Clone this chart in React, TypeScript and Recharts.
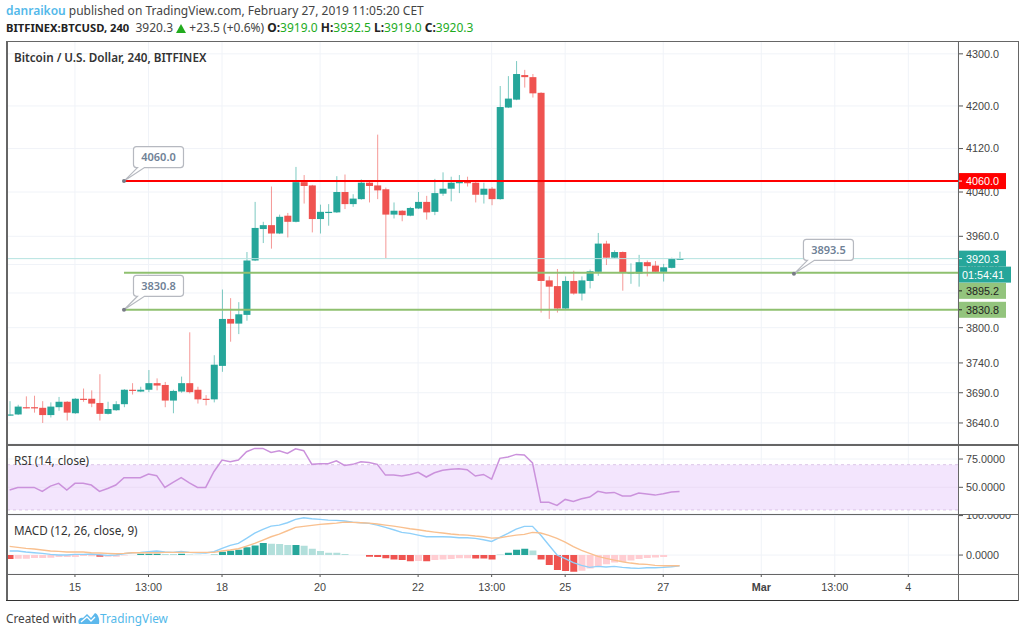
import {
  Bar,
  CartesianGrid,
  Cell,
  ComposedChart,
  Line,
  LineChart,
  ReferenceArea,
  ReferenceDot,
  ReferenceLine,
  XAxis,
  YAxis,
} from "recharts";

const UI_FONT = "'Noto Sans', 'Open Sans', sans-serif";
const AXIS_FONT = "'Liberation Sans', Arial, sans-serif";

// 4h candles, one entry per bar
const opens = [3653,3654,3666,3666,3665,3653,3666,3675,3656,3680,3680,3673,3655,3661,3671,3695,3692,3695,3706,3703,3677,3692,3706,3695,3680,3679,3735,3815,3807,3822,3917,3973,3980,3965,3997,3986,4058,4052,3991,4003,4003,4040,4018,4027,4057,4052,4045,3999,4006,3997,4010,4022,4004,4037,4046,4056,4061,4057,4035,4046,4027,4197,4212,4259,4255,4225,3882,3872,3833,3881,3859,3881,3897,3947,3922,3932,3894,3894,3914,3908,3897,3904,3919];
const highs = [3676,3670,3684,3685,3676,3674,3683,3676,3681,3697,3694,3721,3675,3676,3696,3706,3700,3728,3714,3708,3695,3717,3792,3700,3686,3753,3866,3851,3844,3932,4022,3986,4050,3999,4002,4086,4071,4053,4017,4018,4069,4072,4036,4063,4061,4146,4048,4021,4007,4013,4040,4033,4064,4076,4068,4071,4068,4058,4057,4049,4238,4257,4286,4269,4261,4226,3889,3902,3889,3899,3889,3901,3966,3952,3935,3933,3912,3927,3917,3916,3911,3922,3932.5];
const lows = [3652,3653,3664,3657,3640,3649,3660,3644,3655,3675,3666,3644,3654,3660,3666,3687,3691,3691,3694,3666,3656,3690,3689,3672,3669,3674,3725,3776,3789,3812,3916,3948,3938,3964,3958,3985,4019,3967,3965,3979,4002,4009,4013,4026,4021,4027,3921,3992,3987,3996,4009,3990,3998,4033,4023,4038,4050,4021,4019,4016,4026,4196,4211,4235,4216,3826,3815,3826,3832,3857,3847,3868,3890,3909,3921,3864,3876,3871,3889,3895,3880,3903,3919];
const closes = [3654,3667,3665,3664,3653,3667,3675,3657,3680,3678,3672,3655,3663,3671,3695,3693,3695,3706,3702,3677,3693,3706,3691,3679,3679,3737,3815,3807,3823,3917,3975,3980,3965,3995,3986,4058,4051,3991,4004,4004,4040,4018,4028,4057,4051,4043,3999,4006,3998,4011,4022,4003,4038,4046,4057,4061,4056,4035,4046,4027,4198,4214,4261,4255,4224,3881,3871,3833,3881,3859,3882,3898,3947,3922,3932,3896,3896,3914,3907,3897,3905,3920,3920.3];

const rsiValues = [47.6,49.9,49.9,49.9,46.4,51.1,53.5,47.6,53.5,53.5,52,46.4,49,52,58.5,58.5,58.5,61.7,60.3,49.9,54.4,58.5,54,49.9,49.9,63.8,74.1,72.6,74.1,81.5,84.4,84.4,80.9,82.4,80,84.1,82.4,70.3,70.9,70.9,73.5,69.4,70.3,72.6,72,70.3,60.8,60.8,60,61.4,63.2,59.1,62.9,65,65.9,66.4,65.6,60,61.4,57.3,75.6,76.8,79.1,78.5,71.5,36.7,36.7,34,39.3,37.5,39.9,41.4,46.4,44.9,45.5,42.3,42.3,44.9,44,43.1,44.3,45.8,46.4];

const macdValues = [10.1,10.1,7.6,5.9,4.2,1.7,0,0,1.7,1.7,2.5,0.8,-0.8,0,3.4,5.9,6.8,8.4,10.1,7.6,6.8,9.3,6.8,5.9,5.1,8.4,16.9,24.5,29.5,42.2,55.7,65,73.4,75.9,81.9,90.3,94.5,92,90.3,88.6,87.8,86.1,83.5,81.9,80.2,75.9,70,64.1,57.4,54.9,50.6,46.4,46.4,46.4,45.6,43.9,43.9,42.2,38.8,34.6,44.7,54.9,65.8,72.6,72.6,50.6,25.3,0,-9.3,-19.4,-26.2,-31.2,-28.7,-30.4,-28.7,-31.2,-32.9,-33.8,-32.1,-32.1,-31.2,-29.5,-27];
const signalValues = [21.9,19.4,16.9,15.2,12.7,10.1,9.3,7.6,7.6,7.6,5.9,5.1,4.2,3.4,4.2,5.9,5.9,5.9,5.9,6.8,6.8,6.8,6.8,6.8,6.8,6.8,10.1,12.7,16,22.8,29.5,38,46.4,53.2,61.6,70,72.6,75.1,77.6,79.3,81,83.5,82.7,81.9,81,78.5,75.9,73.4,70,66.7,64.1,60.8,58.2,55.7,53.2,51.5,50.6,48.1,46.4,43,43.9,47.3,50.6,52.3,57.4,55.7,49.8,42.2,32.9,21.1,11.8,4.2,-3.4,-8.4,-12.7,-16.9,-20.3,-22.8,-23.6,-26.2,-27,-27,-27];
const histValues = [-10,-9.5,-9.3,-7.6,-7.4,-6.8,-5,-5,-4.9,-2.5,-3,-4.5,-4,-4,-1,0,3.4,3.4,3.4,2.5,2.5,3,1.7,0.8,0,2.5,8.4,11,13.5,20,24.5,30.4,28.7,27.8,25.3,25.3,23.6,16,10,5.9,5.9,2.5,0,0,-4.2,-5,-8.4,-11,-12.7,-16,-15.2,-16,-12.7,-11,-10,-8.4,-8.4,-8.5,-8.6,-11,1.7,5.9,13.5,16,11.8,-11,-25.3,-38,-40.5,-42,-39.7,-33.8,-28.7,-23.6,-18.6,-16.9,-13.5,-10,-7.6,-5.9,-5,0,0];
// 1 = saturated histogram bar, 0 = pale one
const histStrong = [1,0,0,0,0,0,0,0,0,0,0,1,0,0,0,0,1,1,1,0,0,1,0,0,0,0,1,1,1,1,1,1,0,0,0,1,0,0,0,0,0,0,0,0,1,1,1,1,1,1,0,1,0,0,0,0,0,1,1,1,0,1,1,1,0,1,1,1,1,1,0,0,0,0,0,0,0,0,0,0,0,0,0];

const priceTicks = [4300, 4200, 4120, 4040, 3960, 3910, 3860, 3800, 3740, 3690, 3640];
const rsiTicks = [75, 50];
const macdTicks = [100, 0];
const timeTicks = [8, 17, 26, 38, 50, 59, 68, 80, 92, 101, 110];
const timeLabels = ["15", "13:00", "18", "20", "22", "13:00", "25", "27", "Mar", "13:00", "4"];

const candles = opens.map((open, i) => ({
  i,
  open,
  high: highs[i],
  low: lows[i],
  close: closes[i],
}));
const rsiData = rsiValues.map((rsi, i) => ({ i, rsi }));
const macdData = macdValues.map((macd, i) => ({
  i,
  macd,
  signal: signalValues[i],
  hist: histValues[i],
}));

const xDomain: [number, number] = [-0.38, 116.08];
const priceDomain: [number, number] = [3605.6, 4325];
const GRID = "#f0f3f8";
const UP = "#26a69a";
const DOWN = "#ef5350";
const AXIS_SIZE = 10.8;
const tickStyle = { fontSize: AXIS_SIZE, fill: "#444", fontFamily: AXIS_FONT };

// body and wick of one candle, log positions taken from the bar's high/low rect
function Candle(props: any) {
  const { x, y, width, height, payload } = props;
  const top = Math.min(y, y + height);
  const h = Math.abs(height);
  const { open, close, high, low } = payload;
  const at = (p: number) =>
    top + ((Math.log(high) - Math.log(p)) / (Math.log(high) - Math.log(low))) * h;
  const color = close >= open ? UP : DOWN;
  const cx = x + width / 2;
  const bodyTop = at(Math.max(open, close));
  const bodyBottom = at(Math.min(open, close));
  return (
    <g>
      <line x1={cx} x2={cx} y1={top} y2={top + h} stroke={color} strokeOpacity={0.6} strokeWidth={1} />
      <rect
        x={x}
        y={bodyTop}
        width={width}
        height={Math.max(bodyBottom - bodyTop, 1.2)}
        fill={color}
      />
    </g>
  );
}

function PriceTag(props: any) {
  const { viewBox, text, fill, color = "#fff", dy = 0, width = 48, inset = 8 } = props;
  const left = viewBox.x + viewBox.width;
  const mid = viewBox.y + dy;
  return (
    <g>
      <rect x={left} y={mid - 8} width={width} height={16} fill={fill} />
      {inset > 4 && <line x1={left} x2={left + 4} y1={mid} y2={mid} stroke={color} />}
      <text x={left + inset} y={mid + 4} fontSize={AXIS_SIZE} fontFamily={AXIS_FONT} fill={color}>
        {text}
      </text>
    </g>
  );
}

function Callout(props: any) {
  const { cx, cy, text } = props;
  const x = cx + 9.5;
  const y = cy - 34.5;
  const w = 50;
  const h = 21;
  const r = 3;
  const d = [
    `M${x + r},${y}`,
    `H${x + w - r}`,
    `Q${x + w},${y} ${x + w},${y + r}`,
    `V${y + h - r}`,
    `Q${x + w},${y + h} ${x + w - r},${y + h}`,
    `H${x + 11}`,
    `L${cx},${cy}`,
    `L${x + 4},${y + h}`,
    `H${x + r}`,
    `Q${x},${y + h} ${x},${y + h - r}`,
    `V${y + r}`,
    `Q${x},${y} ${x + r},${y}`,
    "Z",
  ].join(" ");
  return (
    <g>
      <path d={d} fill="#fff" stroke="#b6b9c0" strokeWidth={1.2} />
      <circle cx={cx} cy={cy} r={2} fill="#787b86" />
      <text
        x={x + w / 2}
        y={y + 14.5}
        textAnchor="middle"
        fontSize={11}
        fontWeight={600}
        fontFamily={UI_FONT}
        fill="#6f8196"
      >
        {text}
      </text>
    </g>
  );
}

function TimeTick(props: any) {
  const { x, y, payload } = props;
  const label = timeLabels[timeTicks.indexOf(payload.value)];
  return (
    <text
      x={x}
      y={y + 12}
      textAnchor="middle"
      fontSize={AXIS_SIZE}
      fontFamily={AXIS_FONT}
      fontWeight={label === "Mar" ? 700 : 400}
      fill="#444"
    >
      {label}
    </text>
  );
}

function PriceChart() {
  return (
    <ComposedChart
      width={1024}
      height={403}
      data={candles}
      margin={{ top: 0, right: 6, bottom: 0, left: 6.5 }}
      barSize={7}
    >
      <CartesianGrid stroke={GRID} />
      <XAxis dataKey="i" type="number" domain={xDomain} ticks={timeTicks} allowDataOverflow hide />
      <YAxis
        orientation="right"
        scale="log"
        domain={priceDomain}
        allowDataOverflow
        ticks={priceTicks}
        interval={0}
        width={60}
        axisLine={false}
        tickSize={5}
        tickLine={{ stroke: "#555" }}
        tick={tickStyle}
        tickMargin={3}
        tickFormatter={(v: number) => v.toFixed(1)}
      />
      <ReferenceLine y={3920.3} stroke="#b5e3e0" />
      <Bar
        dataKey={(d: any) => [d.low, d.high]}
        shape={<Candle />}
        isAnimationActive={false}
      />
      <ReferenceLine
        segment={[{ x: 14, y: 4060 }, { x: xDomain[1], y: 4060 }]}
        stroke="#ff0000"
        strokeWidth={2}
      />
      <ReferenceLine
        segment={[{ x: 14, y: 3895.2 }, { x: xDomain[1], y: 3895.2 }]}
        stroke="#8fc06f"
        strokeWidth={2}
      />
      <ReferenceLine
        segment={[{ x: 14, y: 3830.8 }, { x: xDomain[1], y: 3830.8 }]}
        stroke="#8fc06f"
        strokeWidth={2}
      />
      <ReferenceDot x={14} y={4060} r={2} shape={(p: any) => <Callout {...p} text="4060.0" />} />
      <ReferenceDot x={14} y={3830.8} r={2} shape={(p: any) => <Callout {...p} text="3830.8" />} />
      <ReferenceDot x={96} y={3893.5} r={2} shape={(p: any) => <Callout {...p} text="3893.5" />} />
    </ComposedChart>
  );
}

// second chart over the first: axis text is painted above reference labels,
// so the price tags need their own layer to cover the ticks behind them
function PriceTags() {
  return (
    <ComposedChart
      width={1024}
      height={403}
      data={candles}
      margin={{ top: 0, right: 66, bottom: 0, left: 6.5 }}
    >
      <XAxis dataKey="i" type="number" domain={xDomain} allowDataOverflow hide />
      <YAxis scale="log" domain={priceDomain} allowDataOverflow hide />
      <ReferenceLine y={3920.3} stroke="none" label={<PriceTag text="3920.3" fill={UP} />} />
      <ReferenceLine y={3920.3} stroke="none" label={<PriceTag text="01:54:41" fill={UP} dy={16} width={53} inset={4} />} />
      <ReferenceLine y={4060} stroke="none" label={<PriceTag text="4060.0" fill="#ff0000" />} />
      <ReferenceLine y={3895.2} stroke="none" label={<PriceTag text="3895.2" fill="#93c47d" color="#222" dy={18} />} />
      <ReferenceLine y={3830.8} stroke="none" label={<PriceTag text="3830.8" fill="#93c47d" color="#222" />} />
    </ComposedChart>
  );
}

function RsiChart() {
  return (
    <LineChart
      width={1024}
      height={70}
      data={rsiData}
      margin={{ top: 0, right: 6, bottom: 0, left: 6.5 }}
    >
      <CartesianGrid stroke={GRID} />
      <XAxis dataKey="i" type="number" domain={xDomain} ticks={timeTicks} allowDataOverflow hide />
      <YAxis
        orientation="right"
        domain={[26.4, 88.3]}
        allowDataOverflow
        ticks={rsiTicks}
        interval={0}
        width={60}
        axisLine={false}
        tickSize={5}
        tickLine={{ stroke: "#555" }}
        tick={tickStyle}
        tickMargin={3}
        tickFormatter={(v: number) => v.toFixed(4)}
      />
      <ReferenceArea y1={30} y2={70} fill="#f3e5fd" fillOpacity={1} stroke="none" />
      <ReferenceLine y={70} stroke="#dcc6e8" strokeDasharray="3 3" />
      <ReferenceLine y={30} stroke="#dcc6e8" strokeDasharray="3 3" />
      <ReferenceLine y={50} stroke="#ebdcf6" />
      <Line
        dataKey="rsi"
        stroke="#cb92dc"
        strokeWidth={1.5}
        dot={false}
        isAnimationActive={false}
      />
    </LineChart>
  );
}

function MacdChart() {
  return (
    <ComposedChart
      width={1024}
      height={86}
      data={macdData}
      margin={{ top: 0, right: 6, bottom: 0, left: 6.5 }}
      barSize={7}
    >
      <CartesianGrid stroke={GRID} />
      <XAxis
        dataKey="i"
        type="number"
        domain={xDomain}
        ticks={timeTicks}
        interval={0}
        allowDataOverflow
        height={26}
        axisLine={false}
        tickSize={3}
        tickLine={{ stroke: "#555" }}
        tick={<TimeTick />}
      />
      <YAxis
        orientation="right"
        domain={[-48, 104]}
        allowDataOverflow
        ticks={macdTicks}
        interval={0}
        width={60}
        axisLine={false}
        tickSize={5}
        tickLine={{ stroke: "#555" }}
        tick={tickStyle}
        tickMargin={3}
        tickFormatter={(v: number) => v.toFixed(4)}
      />
      <Bar dataKey="hist" isAnimationActive={false}>
        {histValues.map((v, i) => {
          const fill =
            v >= 0
              ? histStrong[i] ? UP : "#b2dfdb"
              : histStrong[i] ? DOWN : "#ffcdd2";
          return <Cell key={i} fill={fill} />;
        })}
      </Bar>
      <Line dataKey="macd" stroke="#8fd0fa" strokeWidth={1.4} dot={false} isAnimationActive={false} />
      <Line dataKey="signal" stroke="#f9c08f" strokeWidth={1.4} dot={false} isAnimationActive={false} />
    </ComposedChart>
  );
}

const paneTitle = (top: number): React.CSSProperties => ({
  position: "absolute",
  left: 14,
  top,
  fontFamily: UI_FONT,
  fontSize: 11.7,
  lineHeight: "16px",
  color: "#333",
  whiteSpace: "nowrap",
});

const rule = (s: React.CSSProperties): React.CSSProperties => ({
  position: "absolute",
  background: "#666",
  ...s,
});

export default function App() {
  const green = { color: "#22ab1e" };
  const strong = { color: "#222" };
  return (
    <div style={{ position: "absolute", left: 0, top: 0, width: 1024, height: 635, background: "#fff", overflow: "hidden" }}>
      <div style={{ position: "absolute", left: 6, top: 3, fontFamily: UI_FONT, fontSize: 12, lineHeight: "16px", color: "#444", whiteSpace: "nowrap" }}>
        <span style={{ color: "#53b9ea", fontWeight: 600 }}>danraikou</span> published on TradingView.com, February 27, 2019 11:05:20 CET
      </div>
      <div style={{ position: "absolute", left: 6, top: 20, fontFamily: UI_FONT, fontSize: 12, lineHeight: "16px", color: "#444", whiteSpace: "nowrap" }}>
        <b style={{ ...strong, fontSize: 11.2 }}>BITFINEX:BTCUSD, 240</b>&nbsp; 3920.3 <svg width={10} height={9} viewBox="0 0 10 9" style={{ verticalAlign: -1 }}><path d="M5 0 L10 9 H0 Z" fill="#22ab1e" /></svg> +23.5 (+0.6%) <b style={strong}>O:</b><span style={green}>3919.0</span> <b style={strong}>H:</b><span style={green}>3932.5</span> <b style={strong}>L:</b><span style={green}>3919.0</span> <b style={strong}>C:</b><span style={green}>3920.3</span>
      </div>

      <div style={{ position: "absolute", left: 0, top: 444 }}><RsiChart /></div>
      <div style={{ position: "absolute", left: 0, top: 514 }}><MacdChart /></div>
      <div style={{ position: "absolute", left: 0, top: 41 }}><PriceChart /></div>
      <div style={{ position: "absolute", left: 0, top: 41 }}><PriceTags /></div>

      <div style={paneTitle(49)}><span style={{ fontWeight: 600 }}>Bitcoin / U.S. Dollar, 240, BITFINEX</span></div>
      <div style={paneTitle(452)}>RSI (14, close)</div>
      <div style={paneTitle(522)}>MACD (12, 26, close, 9)</div>

      <div style={rule({ left: 6, top: 41, width: 1012, height: 1 })} />
      <div style={rule({ left: 6, top: 41, width: 1.5, height: 560 })} />
      <div style={rule({ left: 958, top: 41, width: 1, height: 560 })} />
      <div style={rule({ left: 1018, top: 41, width: 1, height: 560 })} />
      <div style={rule({ left: 6, top: 444, width: 1012, height: 1.5 })} />
      <div style={rule({ left: 6, top: 514, width: 1012, height: 1 })} />
      <div style={rule({ left: 6, top: 574, width: 1012, height: 1 })} />
      <div style={rule({ left: 6, top: 600, width: 1012, height: 1, background: "#333" })} />

      <div style={{ position: "absolute", left: 6, top: 610, fontFamily: UI_FONT, fontSize: 11.8, lineHeight: "17px", color: "#444", whiteSpace: "nowrap" }}>
        Created with
      </div>
      <svg style={{ position: "absolute", left: 78, top: 611 }} width={22} height={14} viewBox="0 0 22 14">
        <path d="M1 13 C-1 9 2 6 5 7 L9 3 L13 7 L17 2 C20 3 22 8 21 13 Z" fill="#5cb8ec" />
        <path d="M3 11 L9 6 L13 10 L17 6" fill="none" stroke="#fff" strokeWidth={1.3} />
      </svg>
      <div style={{ position: "absolute", left: 100, top: 610, fontFamily: UI_FONT, fontSize: 11.8, lineHeight: "17px", color: "#53b9ea", whiteSpace: "nowrap" }}>
        TradingView
      </div>
    </div>
  );
}
